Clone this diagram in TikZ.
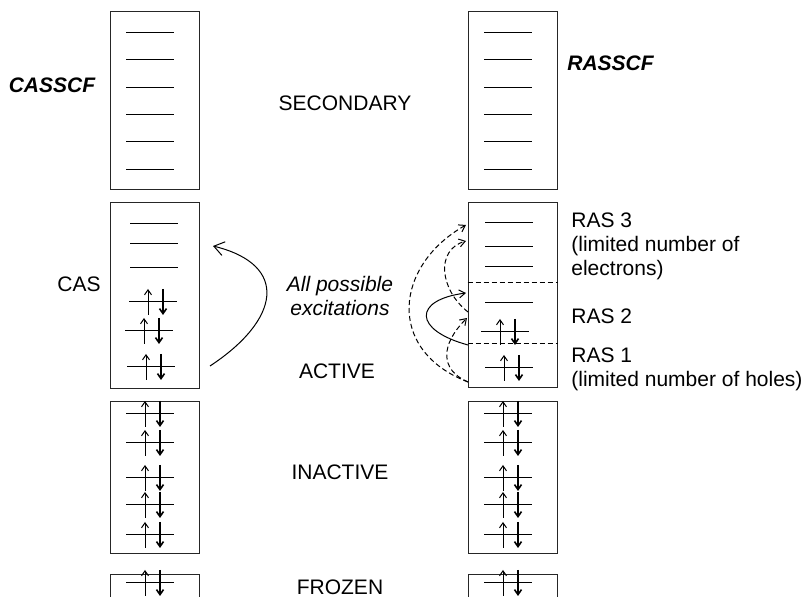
\documentclass[tikz,border=0pt]{standalone}
\usepackage{fontspec}
\setmainfont{Liberation Sans}
\usetikzlibrary{arrows.meta}

\tikzset{
  every node/.style={inner sep=0pt, font=\fontsize{10.5}{12}\selectfont},
  orbbox/.style={draw=black!85, line width=0.5pt, minimum width=44.5pt},
  level/.style={line width=0.5pt},
  spin/.style={line width=0.5pt, -{Straight Barb[length=2.5pt,width=3.5pt]}},
  exc/.style={line width=0.5pt, -{Straight Barb[length=3pt,width=4pt]}},
  excd/.style={exc, dash pattern=on 2.5pt off 1.5pt},
  pics/paired/.style={code={
    \draw[level] (-24,0) -- (24,0);
    \draw[spin] (-5,13) -- (-5,-13);
    \draw[spin, line width=0.8pt] (10,-13) -- (10,13);
  }}
}

\begin{document}
\begin{tikzpicture}[x=0.5pt, y=-0.5pt]
	\useasboundingbox (0,0) rectangle (811,597);
	\clip (0,0) rectangle (811,597);

	% boxes
	\node[orbbox, minimum height=89pt] (secL) at (154.5,101) {};
	\node[orbbox, minimum height=89pt] (secR) at (512.5,101) {};
	\node[orbbox, minimum height=93pt] (actL) at (154.5,296) {};
	\node[orbbox, minimum height=92.5pt] (actR) at (512.5,295.5) {};
	\node[orbbox, minimum height=76pt] (inaL) at (154.5,478) {};
	\node[orbbox, minimum height=76pt] (inaR) at (512.5,478) {};
	\node[orbbox, minimum height=30pt] (froL) at (154.5,605) {};
	\node[orbbox, minimum height=30pt] (froR) at (512.5,605) {};

	% empty levels
	\foreach \y in {33,60,88,115,142,170} {
		\draw[level] (126,\y) -- (174,\y);
		\draw[level] (484,\y) -- (532,\y);
	}
	\foreach \y in {224,244,268} \draw[level] (130,\y) -- (178,\y);
	\foreach \y in {223,247,267,303} \draw[level] (485,\y) -- (533,\y);

	% doubly occupied levels
	\pic at (153,302) {paired};
	\pic at (149,331) {paired};
	\pic at (151,367) {paired};
	\pic at (505,332) {paired};
	\pic at (509,368) {paired};
	\foreach \y in {414,443,478,505,535,583} {
		\pic at (150,\y) {paired};
		\pic at (508,\y) {paired};
	}

	% RAS borders
	\draw[line width=0.5pt, dash pattern=on 2.5pt off 1.5pt] (actR.west |- 0,283) -- (actR.east |- 0,283);
	\draw[line width=0.5pt, dash pattern=on 2.5pt off 1.5pt] (actR.west |- 0,344) -- (actR.east |- 0,344);

	% labels
	\node[font=\fontsize{10.5}{12}\selectfont\bfseries\itshape] (casscf) at (52,85) {CASSCF};
	\node[anchor=west, font=\fontsize{10.5}{12}\selectfont\bfseries\itshape] (rasscf) at (567,63) {RASSCF};
	\node (secondary) at (345,103) {SECONDARY};
	\node[anchor=east] (cas) at (101,284) {CAS};
	\node[align=center, font=\fontsize{10.5}{12}\selectfont\itshape] (allexc) at (340,296) {All possible\\excitations};
	\node (active) at (337,371) {ACTIVE};
	\node (inactive) at (340,472) {INACTIVE};
	\node (frozen) at (340,587) {FROZEN};
	\node[anchor=west, align=left] (ras3) at (571,246) {RAS 3\\(limited number of\\electrons)};
	\node[anchor=west] (ras2) at (571,316) {RAS 2};
	\node[anchor=west, align=left] (ras1) at (571,369) {RAS 1\\(limited number of holes)};

	% excitations
	\coordinate (cas-from) at (210,366);
	\coordinate (cas-to) at (213,246);
	\draw[line width=0.5pt, -{Straight Barb[length=5pt,width=7pt]}] (cas-from) .. controls (280,320) and (290,265) .. (cas-to);

	\coordinate (ras1-low) at (468,382);
	\coordinate (ras1-top) at (468,345);
	\coordinate (ras2-in) at (467,318);
	\coordinate (ras2-out) at (468,312);
	\coordinate (ras2-top) at (466,293);
	\coordinate (ras3-a) at (466,225);
	\coordinate (ras3-b) at (466,241);
	\draw[excd] (ras1-low) .. controls (385,350) and (395,265) .. (ras3-a);
	\draw[excd] (ras2-out) .. controls (440,290) and (435,250) .. (ras3-b);
	\draw[excd] (ras1-low) .. controls (440,370) and (440,345) .. (ras2-in);
	\draw[exc] (ras1-top) .. controls (413,330) and (413,300) .. (ras2-top);
\end{tikzpicture}
\end{document}
